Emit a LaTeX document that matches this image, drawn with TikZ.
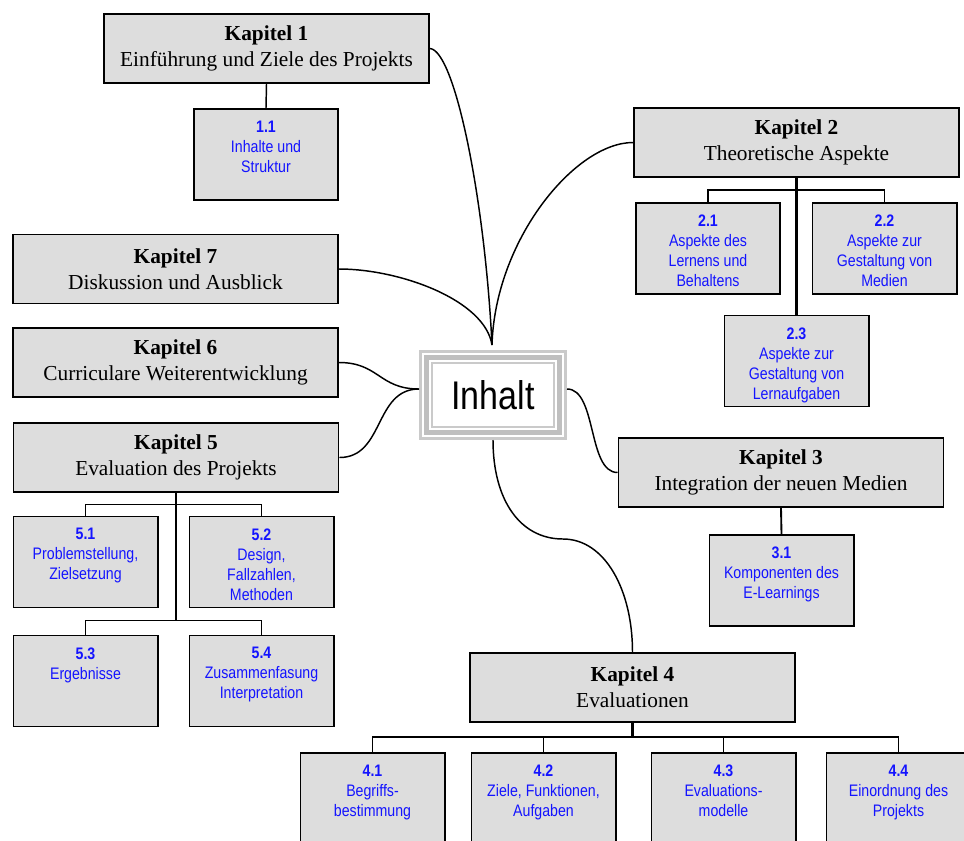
\documentclass[tikz,border=0pt]{standalone}
\usepackage{fontspec}
\setmainfont{Liberation Serif}
\newfontfamily\subfont[FakeStretch=0.85]{Liberation Sans}
\usepackage{tikz}
\definecolor{boxgray}{HTML}{DDDDDD}
\definecolor{ringgray}{HTML}{CACACA}
\definecolor{numblue}{HTML}{1414FF}
\tikzset{%
  kapitel/.style={%
    rectangle,%
    draw,%
    line width=1.2pt,%
    fill=boxgray,%
    minimum width=244pt,%
    minimum height=52pt,%
    align=center,%
    font=\fontsize{16}{19.5}\selectfont},
  sub/.style={%
    rectangle,%
    draw,%
    line width=1.2pt,%
    fill=boxgray,%
    minimum width=108.3pt,%
    minimum height=68.5pt},
  subtext/.style={%
    anchor=north,%
    yshift=-9.5pt,%
    inner sep=0pt,%
    align=center,%
    text=numblue,%
    font=\subfont\fontsize{12.5}{15}\selectfont},
  hubbox/.style={%
    rectangle,%
    fill=white,%
    inner sep=0pt,%
    outer sep=0pt,%
    minimum width=111pt,%
    minimum height=67.5pt,%
    font=\subfont\fontsize{30}{36}\selectfont},
  trunk/.style={line width=1.7pt},
  branch/.style={line width=1.1pt},
  link/.style={line width=1.1pt}
}

\begin{document}
\begin{tikzpicture}[x=0.75pt,y=-0.75pt]
  \clip (0,0) rectangle (964,840);

  % centre
  \node [hubbox] (inh) at (493,395) {Inhalt};
  \foreach \d/\w/\c in {1.5/3/ringgray, 7.5/5/gray!50, 13/2/ringgray}
    \draw [draw=\c, line width=\w*0.75pt]
      ([shift={(\d,\d)}]inh.north west) rectangle ([shift={(-\d,-\d)}]inh.south east);
  \coordinate (hubN) at (492,345);
  \coordinate (hubW) at (419,389);
  \coordinate (hubE) at (567,389);
  \coordinate (bend4) at (563,539);

  % chapters
  \node [kapitel] (k1) at (266.5,48.5) {\textbf{Kapitel 1}\\Einführung und Ziele des Projekts};
  \node [kapitel] (k2) at (796.5,142.5) {\textbf{Kapitel 2}\\Theoretische Aspekte};
  \node [kapitel] (k3) at (781,472.5) {\textbf{Kapitel 3}\\Integration der neuen Medien};
  \node [kapitel] (k4) at (632.5,687.5) {\textbf{Kapitel 4}\\Evaluationen};
  \node [kapitel] (k5) at (176,457.5) {\textbf{Kapitel 5}\\Evaluation des Projekts};
  \node [kapitel] (k6) at (175.5,362.5) {\textbf{Kapitel 6}\\Curriculare Weiterentwicklung};
  \node [kapitel] (k7) at (175.5,269) {\textbf{Kapitel 7}\\Diskussion und Ausblick};

  % sections
  \node [sub, label={[subtext]north:{\textbf{1.1}\\Inhalte und\\Struktur}}] (s11) at (266,154.5) {};
  \node [sub, label={[subtext]north:{\textbf{2.1}\\Aspekte des\\Lernens und\\Behaltens}}] (s21) at (708,248.5) {};
  \node [sub, label={[subtext]north:{\textbf{2.2}\\Aspekte zur\\Gestaltung von\\Medien}}] (s22) at (884.5,248.5) {};
  \node [sub, label={[subtext]north:{\textbf{2.3}\\Aspekte zur\\Gestaltung von\\Lernaufgaben}}] (s23) at (796.5,361) {};
  \node [sub, label={[subtext]north:{\textbf{3.1}\\Komponenten des\\E-Learnings}}] (s31) at (781.5,580.5) {};
  \node [sub, label={[subtext]north:{\textbf{4.1}\\Begriffs-\\bestimmung}}] (s41) at (372.5,798.5) {};
  \node [sub, label={[subtext]north:{\textbf{4.2}\\Ziele, Funktionen,\\Aufgaben}}] (s42) at (543.5,798.5) {};
  \node [sub, label={[subtext]north:{\textbf{4.3}\\Evaluations-\\modelle}}] (s43) at (723.5,798.5) {};
  \node [sub, label={[subtext]north:{\textbf{4.4}\\Einordnung des\\Projekts}}] (s44) at (898.5,798.5) {};
  \node [sub, label={[subtext]north:{\textbf{5.1}\\Problemstellung,\\Zielsetzung}}] (s51) at (85.5,562) {};
  \node [sub, label={[subtext]north:{\textbf{5.2}\\Design,\\Fallzahlen,\\Methoden}}] (s52) at (261.5,562) {};
  \node [sub, label={[subtext]north:{\textbf{5.3}\\Ergebnisse}}] (s53) at (85.5,681) {};
  \node [sub, label={[subtext]north:{\textbf{5.4}\\Zusammenfasung\\Interpretation}}] (s54) at (261.5,681) {};

  % trees
  \draw [branch] (k1.south) -- (s11.north);
  \draw [branch] (s21.north) -- ++(0,-12) -| (s22.north);
  \draw [trunk] (k2.south) -- (s23.north);
  \draw [line width=1.4pt] (k3.south) -- (s31.north);
  \draw [branch] (s41.north) -- ++(0,-15) coordinate (b4) -| (s44.north);
  \draw [branch] (s42.north) -- (s42.north |- b4);
  \draw [branch] (s43.north) -- (s43.north |- b4);
  \draw [trunk] (k4.south) -- (k4.south |- b4);
  \draw [trunk] (s42.north |- b4) -- (s43.north |- b4);
  \draw [branch] (s51.north) -- ++(0,-11) -| (s52.north);
  \draw [branch] (s53.north) -- ++(0,-14) coordinate (b5) -| (s54.north);
  \draw [trunk] (k5.south) -- (k5.south |- b5);

  % links to the centre
  \draw [link] (k1.east) .. controls +(25,2) and +(-7,-145) .. (hubN);
  \draw [link] (k7.east) .. controls +(61,0) and +(-7,-45) .. (hubN);
  \draw [link] (k2.west) .. controls +(-58,0) and +(3,-105) .. (hubN);
  \draw [link] (k6.east) .. controls +(40,0) and +(-40,0) .. (hubW);
  \draw [link] (k5.east) .. controls +(45,0) and +(-45,0) .. (hubW);
  \draw [link] (hubE) .. controls +(30,0) and +(-30,0) .. (k3.west);
  \draw [link] (inh.south) .. controls +(0,60) and +(-43,0) .. (bend4)
    .. controls +(42,0) and +(0,-62) .. (k4.north);
\end{tikzpicture}
\end{document}
